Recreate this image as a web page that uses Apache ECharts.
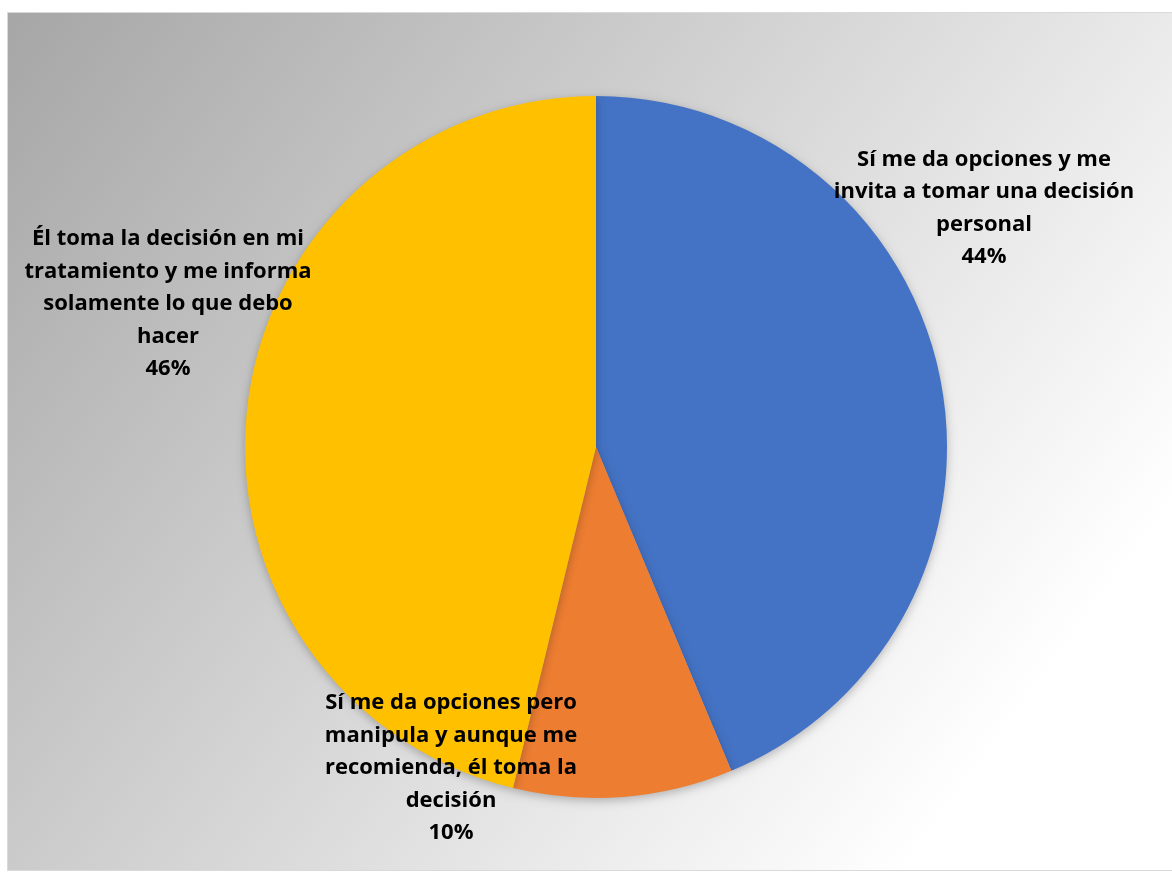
<!DOCTYPE html>
<html><head><meta charset="utf-8">
<script src="https://cdn.jsdelivr.net/npm/echarts@6/dist/echarts.min.js"></script>
<style>html,body{margin:0;padding:0;background:#fff}#c{width:1172px;height:875px}</style>
</head><body><div id="c"></div>
<script>
const categories = [
  'Sí me da opciones y me\ninvita a tomar una decisión\npersonal',
  'Sí me da opciones pero\nmanipula y aunque me\nrecomienda, él toma la\ndecisión',
  'Él toma la decisión en mi\ntratamiento y me informa\nsolamente lo que debo\nhacer'
];
const values = [43.7, 10.1, 46.2];
const colors = ['#4472C4', '#ED7D31', '#FFC000'];

const labelPos = [
  {x: 984, y: 208},
  {x: 451, y: 768},
  {x: 168, y: 304}
];

const chart = echarts.init(document.getElementById('c'));
chart.setOption({
  animation: false,
  graphic: [{
    type: 'rect', z: -10, silent: true,
    shape: {x: 7.5, y: 12.5, width: 1170, height: 858},
    style: {
      fill: new echarts.graphic.LinearGradient(0, 0, 1, 1, [
        {offset: 0, color: '#a6a6a6'},
        {offset: 0.85, color: '#ffffff'},
        {offset: 1, color: '#ffffff'}
      ]),
      stroke: '#d9d9d9', lineWidth: 1
    }
  }],
  series: [{
    type: 'pie',
    center: [596, 447],
    radius: [0, 351],
    startAngle: 90,
    clockwise: true,
    data: categories.map((c, i) => ({name: c, value: values[i], itemStyle: {color: colors[i]}})),
    itemStyle: {shadowBlur: 10, shadowColor: 'rgba(0,0,0,0.25)', shadowOffsetY: 3},
    label: {
      show: true,
      position: 'outside',
      formatter: p => p.name + '\n' + Math.round(p.percent) + '%',
      fontFamily: 'Open Sans',
      fontWeight: 'bold',
      fontSize: 22,
      lineHeight: 32.5,
      color: '#000',
      align: 'center',
      width: 400,
      overflow: 'none'
    },
    labelLine: {show: false},
    labelLayout: p => ({x: labelPos[p.dataIndex].x, y: labelPos[p.dataIndex].y, align: 'center', verticalAlign: 'middle'})
  }]
});
</script></body></html>
